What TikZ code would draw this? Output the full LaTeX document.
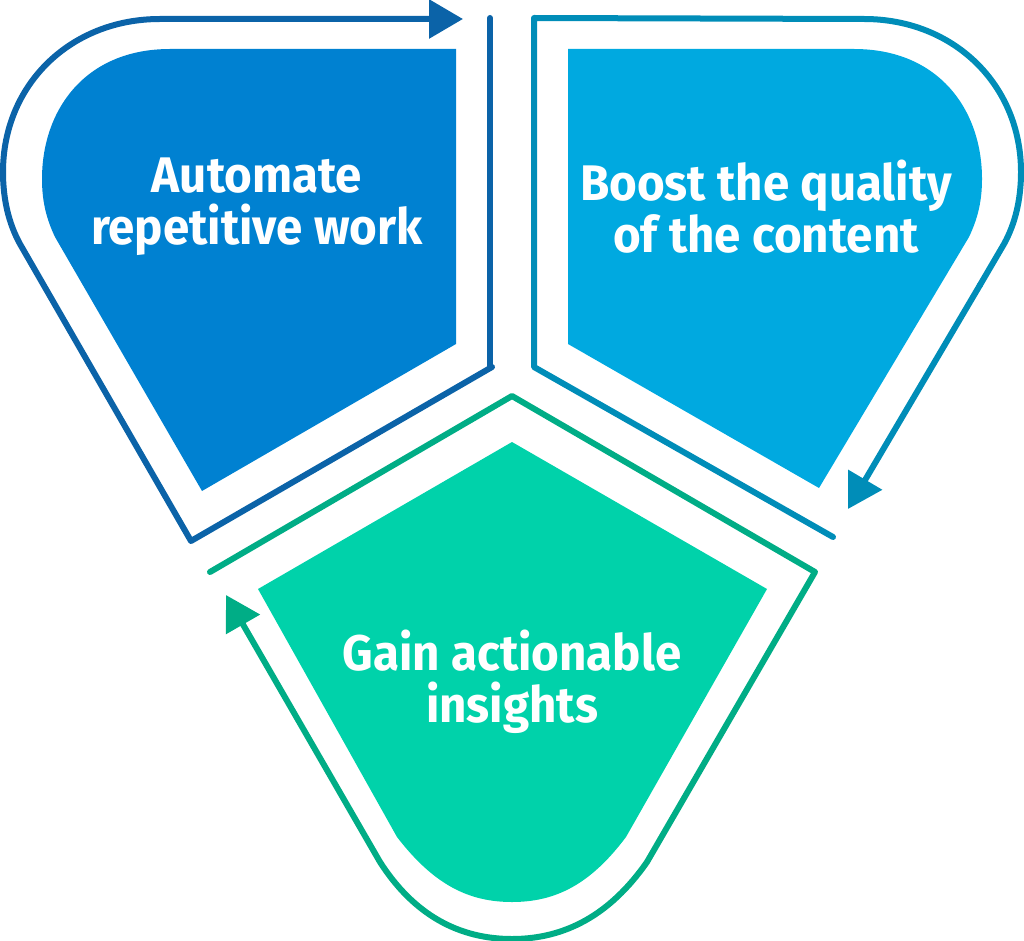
\documentclass[tikz,border=0pt]{standalone}
\usepackage{fontspec}
\setmainfont{Fira Sans}
\usetikzlibrary{arrows.meta}
\definecolor{autofill}{HTML}{0081D1}
\definecolor{autoline}{HTML}{0B63A8}
\definecolor{boostfill}{HTML}{00A9E0}
\definecolor{boostline}{HTML}{008DB8}
\definecolor{gainfill}{HTML}{00D2AA}
\definecolor{gainline}{HTML}{00AD86}
\tikzset{
  loop/.style={line width=6pt, line cap=round, line join=round},
  tip/.style={-{Triangle[length=34pt,width=38pt]}},
  label/.style={text=white, align=center, font=\bfseries\fontsize{50}{52}\selectfont}
}
\newcommand{\narrow}[1]{\scalebox{0.95}[1]{#1}}
\begin{document}
\begin{tikzpicture}[x=1pt,y=-1pt]
  \useasboundingbox (0,0) rectangle (1024,941);
  % Automate
  \fill[autofill] (456,49) -- (170,49) .. controls (85,49) and (42,110) .. (42,179)
    .. controls (42,203) and (47,220) .. (55,237) -- (202,491) -- (456,344) -- cycle;
  \draw[loop, autoline, tip] (492,367) -- (191,541) -- (20,244)
    .. controls (9,224) and (3,200) .. (3,172) .. controls (3,85) and (70,19) .. (160,19) -- (463,19);
  \draw[loop, autoline] (490,18) -- (490,367);
  \node[label] (auto) at (257,207) {\narrow{Automate}\\\narrow{repetitive work}};
  % Boost
  \fill[boostfill] (568,49) -- (854,49) .. controls (939,49) and (982,110) .. (982,179)
    .. controls (982,203) and (977,220) .. (969,237) -- (819,488) -- (568,344) -- cycle;
  \draw[loop, boostline] (833,537) -- (534,367) -- (534,18) -- (864,19)
    .. controls (954,19) and (1021,85) .. (1021,172) .. controls (1021,200) and (1015,224) .. (1004,244) -- (980,285);
  \coordinate (boostend) at (848,509);
  \draw[loop, boostline, tip] (980,285) -- (boostend);
  \node[label] (boost) at (766,207) {\narrow{Boost the quality}\\\narrow{of the content}};
  % Gain
  \fill[gainfill] (512,442) -- (767,589) -- (626,837)
    .. controls (590,885) and (555,902) .. (512,902) .. controls (469,902) and (434,885) .. (397,837)
    -- (258,589) -- cycle;
  \draw[loop, gainline, tip] (210,572) -- (512,396) -- (815,572) -- (647,862)
    .. controls (610,915) and (565,939) .. (512,939) .. controls (459,939) and (414,915) .. (380,862) -- (226,595);
  \node[label] (gain) at (512,682) {\narrow{Gain actionable}\\\narrow{insights}};
\end{tikzpicture}
\end{document}
